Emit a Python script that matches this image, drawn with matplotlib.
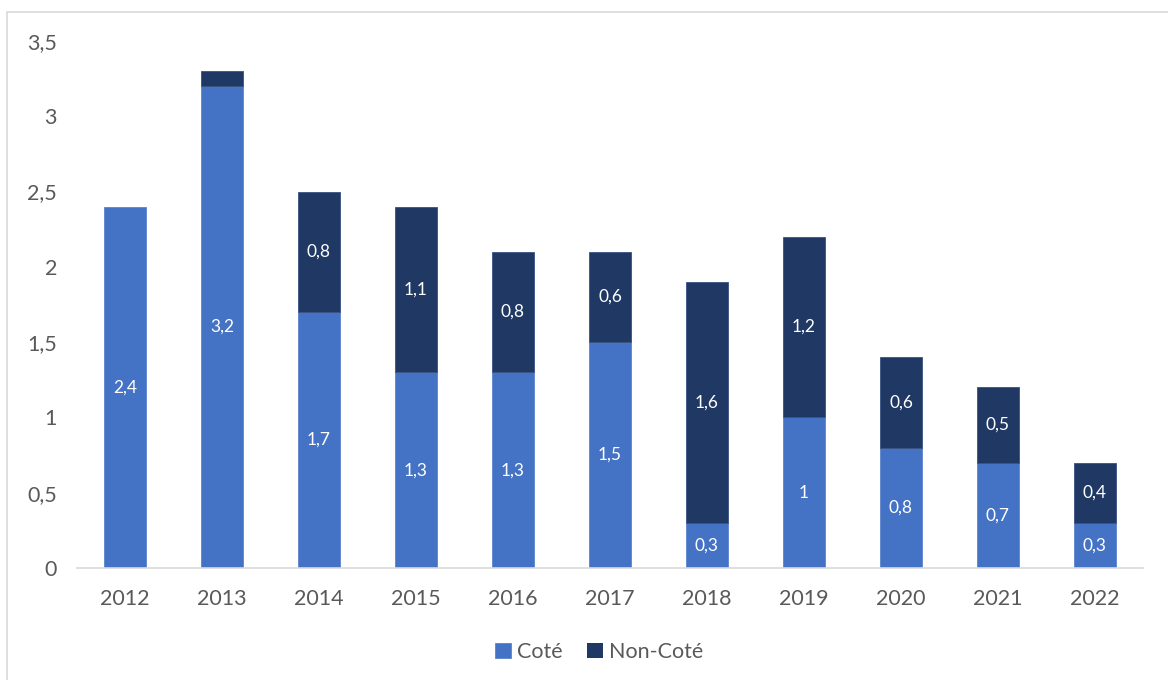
import numpy as np
import matplotlib.pyplot as plt
from matplotlib.patches import Rectangle

# Données
annees = ['2012', '2013', '2014', '2015', '2016', '2017', '2018', '2019', '2020', '2021', '2022']
cote = [2.4, 3.2, 1.7, 1.3, 1.3, 1.5, 0.3, 1.0, 0.8, 0.7, 0.3]
non_cote = [0.0, 0.1, 0.8, 1.1, 0.8, 0.6, 1.6, 1.2, 0.6, 0.5, 0.4]

c_cote = '#4472C4'
c_non = '#203864'
gris = '#595959'

plt.rcParams['font.family'] = ['Lato', 'DejaVu Sans']

fig = plt.figure(figsize=(11.68, 6.8), dpi=100)
ax = fig.add_axes([0.0655, 0.1647, 0.9135, 0.775])

x = np.arange(len(annees))
w = 0.44
ax.bar(x, cote, w, color=c_cote, edgecolor='#5B84CC', lw=0.6, label='Coté')
nc = np.array(non_cote)
ax.bar(x, nc, w, bottom=cote, color=c_non, edgecolor=['#3A5282' if v > 0 else 'none' for v in nc],
       lw=0.6, label='Non-Coté')

def fmt(v):
    s = f'{v:g}'
    return s.replace('.', ',')

for xi, v in zip(x, cote):
    if v >= 0.2:
        ax.text(xi, v / 2, fmt(v), ha='center', va='center', color='white', fontsize=12.5)
for xi, v, b in zip(x, non_cote, cote):
    if v >= 0.2:
        ax.text(xi, b + v / 2, fmt(v), ha='center', va='center', color='white', fontsize=12.5)

ax.set_xlim(-0.5, len(annees) - 0.5)
ax.set_ylim(0, 3.5)
ax.set_xticks(x)
ax.set_xticklabels(annees)
yt = np.arange(0, 3.51, 0.5)
ax.set_yticks(yt)
ax.set_yticklabels([fmt(v) for v in yt])
ax.tick_params(axis='both', length=0, labelsize=15.5, colors=gris)
ax.tick_params(axis='x', pad=15)
ax.tick_params(axis='y', pad=14)
for s in ['top', 'right', 'left']:
    ax.spines[s].set_visible(False)
ax.spines['bottom'].set_color('#D9D9D9')
ax.spines['bottom'].set_linewidth(1.2)

leg = fig.legend(loc='center', bbox_to_anchor=(0.513, 0.041), ncol=2, frameon=False,
                 fontsize=15.5, handlelength=0.75, handleheight=0.75, handletextpad=0.3,
                 columnspacing=1.1)
for t in leg.get_texts():
    t.set_color(gris)

# cadre du graphique
fig.patches.append(Rectangle((7 / 1168, -0.01), 1.02, 1 - 12 / 680 + 0.01,
                             transform=fig.transFigure, fill=False,
                             edgecolor='#D9D9D9', lw=1.2))

fig.savefig('out.png', dpi=100)
